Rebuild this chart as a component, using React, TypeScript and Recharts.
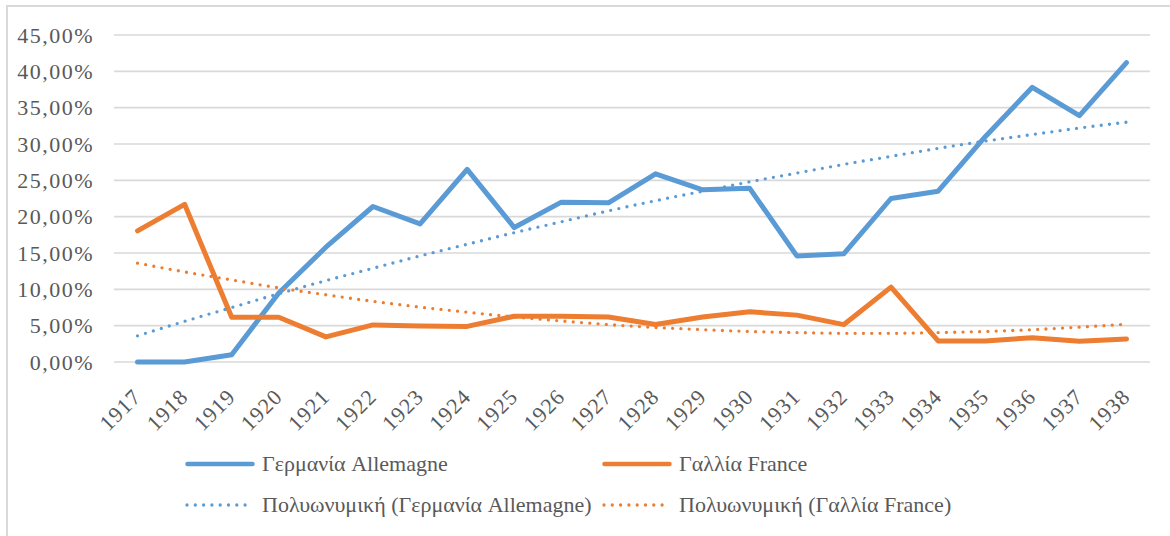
import React from 'react';
import { LineChart, Line, XAxis, YAxis, CartesianGrid, Legend } from 'recharts';

const years = ['1917','1918','1919','1920','1921','1922','1923','1924','1925','1926','1927','1928','1929','1930','1931','1932','1933','1934','1935','1936','1937','1938'];
const germany = [0, 0, 1.0, 9.5, 15.8, 21.4, 19.0, 26.5, 18.5, 22.0, 21.9, 25.9, 23.7, 23.9, 14.6, 14.9, 22.5, 23.5, 31.0, 37.8, 33.9, 41.2];
const france = [18.05, 21.7, 6.15, 6.15, 3.45, 5.1, 4.95, 4.9, 6.3, 6.3, 6.2, 5.15, 6.2, 6.9, 6.45, 5.15, 10.3, 2.9, 2.9, 3.35, 2.85, 3.15];
const germanyTrend = [3.6, 5.6, 7.5, 9.4, 11.2, 12.9, 14.6, 16.2, 17.8, 19.3, 20.8, 22.2, 23.5, 24.8, 26.0, 27.2, 28.3, 29.4, 30.4, 31.3, 32.2, 33.0];
const franceTrend = [13.6, 12.4, 11.3, 10.2, 9.25, 8.35, 7.55, 6.85, 6.2, 5.65, 5.15, 4.75, 4.45, 4.2, 4.05, 3.95, 3.95, 4.05, 4.2, 4.45, 4.8, 5.2];
const yTicks = [0, 5, 10, 15, 20, 25, 30, 35, 40, 45];
const seriesNames = ['Γερμανία Allemagne', 'Γαλλία France', 'Πολυωνυμική (Γερμανία Allemagne)', 'Πολυωνυμική (Γαλλία France)'];

const data = years.map((y, i) => ({
  year: y,
  de: germany[i],
  fr: france[i],
  deT: germanyTrend[i],
  frT: franceTrend[i],
}));

const BLUE = '#5B9BD5';
const ORANGE = '#ED7D31';
const TEXT = '#595959';
const GRID = '#d9d9d9';
const FONT = '"Liberation Serif", "DejaVu Serif", serif';

const fmtY = (v: number) => v.toFixed(2).replace('.', ',') + '%';

const XTick = (props: any) => {
  const { x, y, payload } = props;
  const ax = x + 5;
  const ay = y + 28;
  return (
    <text x={ax} y={ay} transform={`rotate(-45, ${ax}, ${ay})`} textAnchor="end" fill={TEXT} fontSize={22} fontFamily={FONT} letterSpacing={1}>
      {payload.value}
    </text>
  );
};

const legendItems = [
  { name: seriesNames[0], color: BLUE, dotted: false, left: 185, top: 24 },
  { name: seriesNames[1], color: ORANGE, dotted: false, left: 602, top: 24 },
  { name: seriesNames[2], color: BLUE, dotted: true, left: 185, top: 65 },
  { name: seriesNames[3], color: ORANGE, dotted: true, left: 602, top: 65 },
];

const LegendContent = () => (
  <div style={{ position: 'relative', width: 1170, height: 90 }}>
    {legendItems.map((it) => (
      <div key={it.name} style={{ position: 'absolute', left: it.left, top: it.top - 15, height: 30, display: 'flex', alignItems: 'center', whiteSpace: 'nowrap' }}>
        <svg width={70} height={10} style={{ display: 'block' }}>
          {it.dotted ? (
            <line x1={2} y1={5} x2={68} y2={5} stroke={it.color} strokeWidth={3.3} strokeDasharray="0 8.3" strokeLinecap="round" />
          ) : (
            <line x1={2.5} y1={5} x2={67.5} y2={5} stroke={it.color} strokeWidth={4.5} strokeLinecap="round" />
          )}
        </svg>
        <span style={{ marginLeft: 7, fontFamily: FONT, fontSize: 22, color: TEXT, lineHeight: '30px' }}>{it.name}</span>
      </div>
    ))}
  </div>
);

export default function App() {
  return (
    <div style={{ position: 'absolute', left: 0, top: 0, width: 1170, height: 536, background: '#fff', overflow: 'hidden' }}>
      <div style={{ position: 'absolute', left: 6, top: 5, width: 1200, height: 600, borderLeft: `2px solid ${GRID}`, borderTop: `2px solid ${GRID}` }} />
      <div style={{ position: 'absolute', left: 0, top: 0 }}>
        <LineChart width={1170} height={536} data={data} margin={{ top: 35, right: 20, left: 0, bottom: 0 }}>
          <CartesianGrid vertical={false} stroke={GRID} strokeWidth={1.6} />
          <XAxis dataKey="year" axisLine={false} tickLine={false} interval={0} height={84} padding={{ left: 23.5, right: 23.5 }} tick={<XTick />} />
          <YAxis domain={[0, 45]} ticks={yTicks} axisLine={false} tickLine={false} width={114} tickMargin={14}
            tickFormatter={fmtY} tick={{ fill: TEXT, fontSize: 22, fontFamily: FONT, letterSpacing: 1.5 }} />
          <Legend verticalAlign="bottom" content={<LegendContent />} wrapperStyle={{ position: 'absolute', left: 0, top: 440, width: 1170, height: 90 }} />
          <Line type="linear" dataKey="de" name={seriesNames[0]} stroke={BLUE} strokeWidth={5} strokeLinecap="round" strokeLinejoin="round" dot={false} isAnimationActive={false} />
          <Line type="linear" dataKey="fr" name={seriesNames[1]} stroke={ORANGE} strokeWidth={5} strokeLinecap="round" strokeLinejoin="round" dot={false} isAnimationActive={false} />
          <Line type="monotone" dataKey="deT" name={seriesNames[2]} stroke={BLUE} strokeWidth={3.3} strokeDasharray="0 8.3" strokeLinecap="round" dot={false} isAnimationActive={false} />
          <Line type="monotone" dataKey="frT" name={seriesNames[3]} stroke={ORANGE} strokeWidth={3.3} strokeDasharray="0 8.3" strokeLinecap="round" dot={false} isAnimationActive={false} />
        </LineChart>
      </div>
    </div>
  );
}
